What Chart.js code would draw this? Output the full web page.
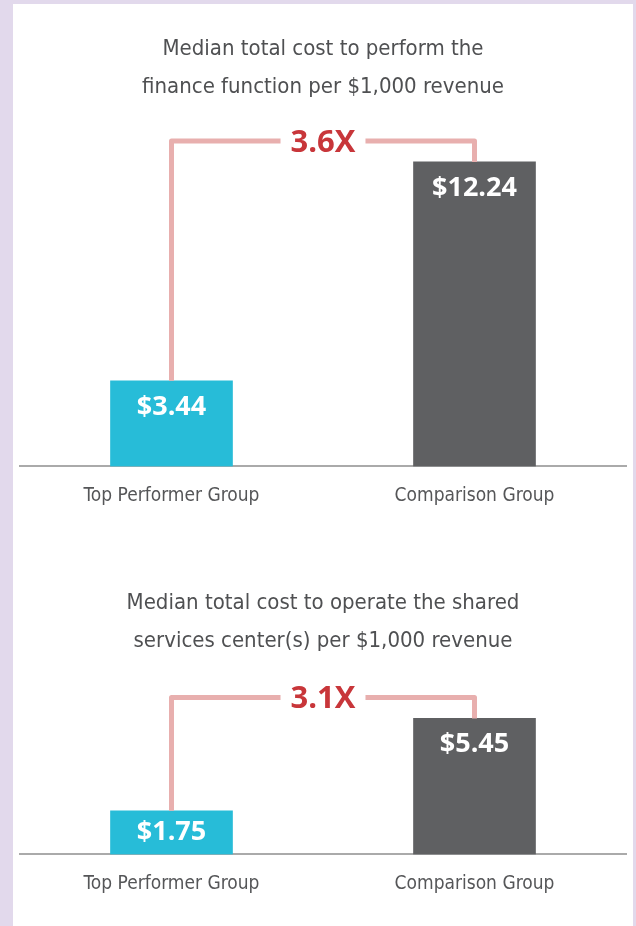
<!DOCTYPE html>
<html>
<head>
<meta charset="utf-8">
<script src="https://cdn.jsdelivr.net/npm/chart.js@4/dist/chart.umd.min.js"></script>
<style>
    body { margin: 0; background: #e2d9ec; width: 636px; height: 926px; position: relative; overflow: hidden; }
    .panel { position: absolute; left: 13px; top: 4px; width: 620px; height: 922px; background: #fff; }
    .box { position: absolute; left: 0; width: 636px; }
    #box1 { top: 0; height: 530px; }
    #box2 { top: 530px; height: 396px; }
</style>
</head>
<body>
<div class="panel"></div>
<div class="box" id="box1"><canvas id="financeChart"></canvas></div>
<div class="box" id="box2"><canvas id="sscChart"></canvas></div>
<script>
// Data
const groups = ['Top Performer Group', 'Comparison Group'];
const financeCost = [3.44, 12.24];
const sscCost = [1.75, 5.45];
const financeTitle = ['Median total cost to perform the', 'finance function per $1,000 revenue'];
const sscTitle = ['Median total cost to operate the shared', 'services center(s) per $1,000 revenue'];

const barColors = ['#27bcd8', '#5f6062'];
const narrow = "'Liberation Sans Narrow', 'DejaVu Sans Condensed', sans-serif";
const bold = "'Open Sans', 'DejaVu Sans', sans-serif";

// Draws the values inside the bars and the bracket with the multiplier
const bracketPlugin = {
    id: 'bracket',
    afterDatasetsDraw(chart) {
        const ctx = chart.ctx;
        const values = chart.data.datasets[0].data;
        const bars = chart.getDatasetMeta(0).data;
        const base = chart.scales.y.getPixelForValue(0);

        ctx.save();
        ctx.fillStyle = '#fff';
        ctx.font = '700 27px ' + bold;
        ctx.textAlign = 'center';
        ctx.textBaseline = 'middle';
        bars.forEach((bar, i) => {
            const y = Math.min(bar.y + 26, (bar.y + base) / 2);
            ctx.fillText('$' + values[i].toFixed(2), bar.x, y);
        });

        const a = bars[0], b = bars[1];
        const level = Math.min(a.y, b.y) - 21;
        const mid = (a.x + b.x) / 2;
        const label = (values[1] / values[0]).toFixed(1) + 'X';
        ctx.font = '700 31px ' + bold;
        const half = ctx.measureText(label).width / 2;

        ctx.strokeStyle = '#e8afae';
        ctx.lineWidth = 5;
        ctx.lineJoin = 'round';
        ctx.beginPath();
        ctx.moveTo(a.x, a.y);
        ctx.lineTo(a.x, level);
        ctx.lineTo(mid - half - 10, level);
        ctx.moveTo(mid + half + 10, level);
        ctx.lineTo(b.x, level);
        ctx.lineTo(b.x, b.y);
        ctx.stroke();

        ctx.fillStyle = '#c8363a';
        ctx.fillText(label, mid, level + 2);
        ctx.restore();
    }
};

function makeChart(id, values, title, yMax, pad) {
    return new Chart(document.getElementById(id), {
        type: 'bar',
        data: {
            labels: groups,
            datasets: [{
                data: values,
                backgroundColor: barColors,
                barThickness: 122
            }]
        },
        options: {
            responsive: true,
            maintainAspectRatio: false,
            animation: false,
            layout: { padding: { left: 20, right: 10, top: 0, bottom: pad.bottom } },
            plugins: {
                legend: { display: false },
                tooltip: { enabled: false },
                title: {
                    display: true,
                    text: title,
                    color: '#4f5052',
                    font: { family: narrow, size: 22, weight: 'normal', lineHeight: 1.73 },
                    padding: { top: pad.titleTop, bottom: pad.titleBottom }
                }
            },
            scales: {
                x: {
                    grid: { display: false, drawTicks: false },
                    border: { display: true, color: '#aaaaaa', width: 2 },
                    ticks: { color: '#555658', padding: 18, font: { family: narrow, size: 19, lineHeight: 1.2 } }
                },
                y: { display: false, min: 0, max: yMax }
            }
        },
        plugins: [bracketPlugin]
    });
}

makeChart('financeChart', financeCost, financeTitle, 14, { titleTop: 30, titleBottom: 12, bottom: 4.8 });
makeChart('sscChart', sscCost, sscTitle, 7, { titleTop: 53.8, titleBottom: 19.8, bottom: 12.8 });
</script>
</body>
</html>
